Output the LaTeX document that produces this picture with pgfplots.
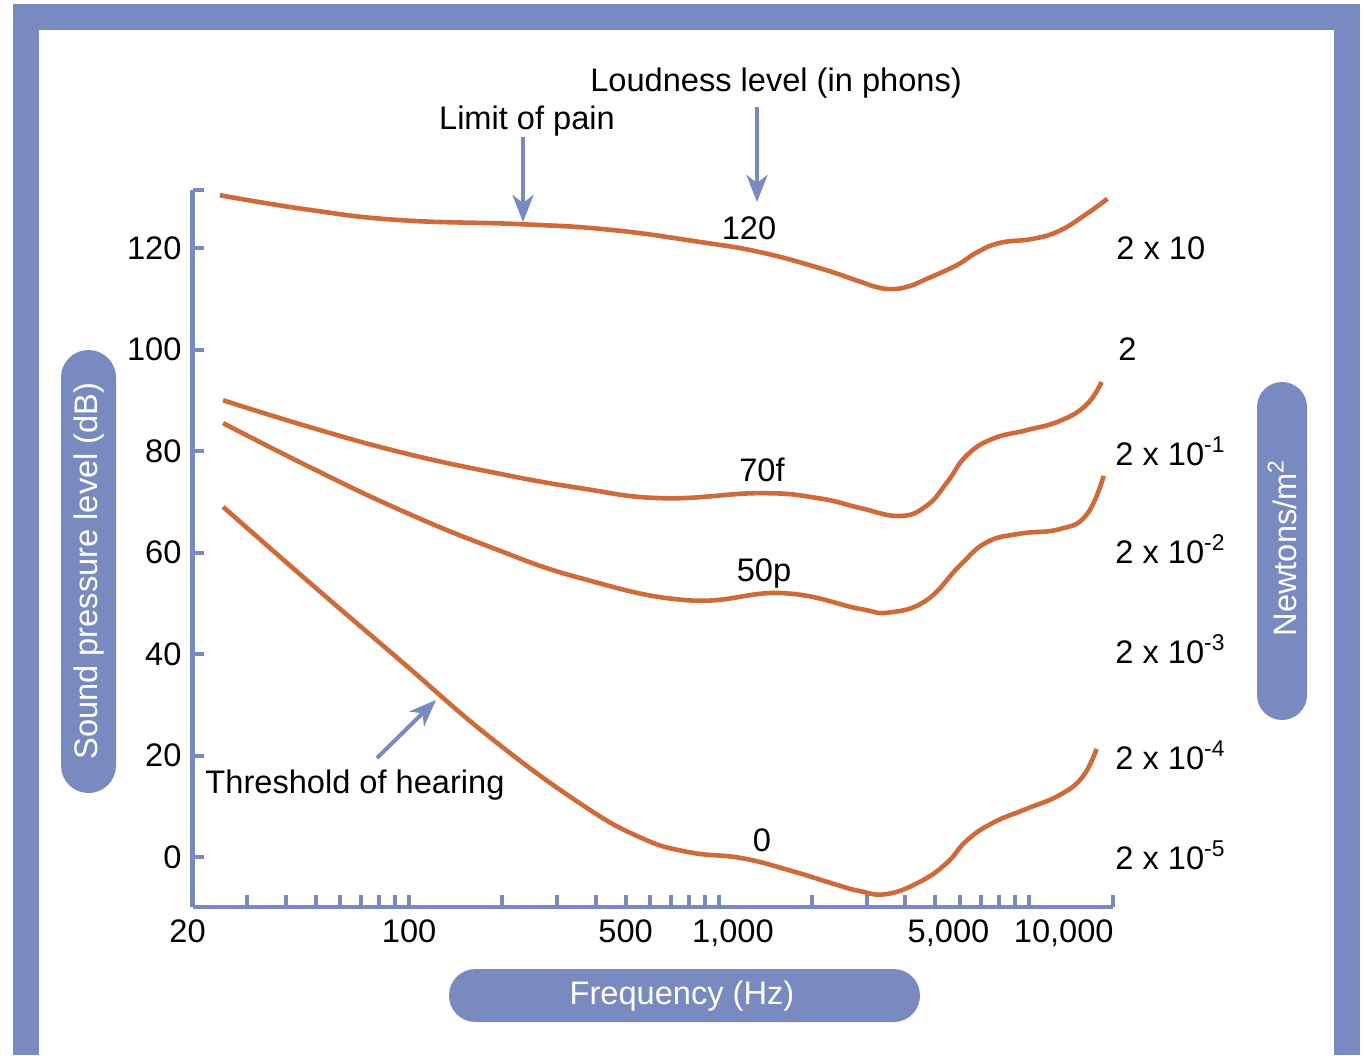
\documentclass[border=0pt]{standalone}
\usepackage{fontspec}
\setmainfont{Liberation Sans}
\usepackage{pgfplots}
\pgfplotsset{compat=1.18}
\usetikzlibrary{arrows.meta}
\definecolor{framecol}{RGB}{120,138,192}
\definecolor{curvecol}{RGB}{207,106,58}
\newcommand\fs{\fontsize{16.3}{19.5}\selectfont}
\tikzset{curve/.style={curvecol, line width=2.3pt, smooth, tension=0.75, no markers}}

\begin{document}
\begin{tikzpicture}
\begin{scope}[x=0.5pt,y=-0.5pt]
\useasboundingbox (0,0) rectangle (1368,1055);
\fill[white] (0,0) rectangle (1368,1055);
\fill[framecol] (13,4) rectangle (1360,1055);
\fill[white] (39,30) rectangle (1334,1055);
% pills
\fill[framecol, rounded corners=13.7pt] (61,350) rectangle (116,793);
\node[text=white, rotate=90, font=\fs] at (89,571) {Sound pressure level (dB)};
\fill[framecol, rounded corners=12.5pt] (1257,382) rectangle (1307,720);
\node[text=white, rotate=90, font=\fs] at (1282,548) {Newtons/m\textsuperscript{2}};
\fill[framecol, rounded corners=13.2pt] (449,969) rectangle (920,1022);
\node[text=white, font=\fs] at (682,996) {Frequency (Hz)};
% annotations
\node[font=\fs] at (776,83) {Loudness level (in phons)};
\node[font=\fs] at (527,121) {Limit of pain};
\node[font=\fs] at (355,785) {Threshold of hearing};
\node[font=\fs] at (749,228) {120};
\node[font=\fs] at (762,470) {70f};
\node[font=\fs] at (764,573) {50p};
\node[font=\fs] at (762,840) {0};
\draw[framecol, line width=2pt, -{Stealth[length=13.5pt,width=10.5pt,inset=4pt]}] (523,137) -- (523,222);
\draw[framecol, line width=2pt, -{Stealth[length=13.5pt,width=10.5pt,inset=4pt]}] (757,107) -- (757,202);
\draw[framecol, line width=2pt, -{Stealth[length=13.5pt,width=10.5pt,inset=4pt]}] (377,758) -- (436,700);
% right-hand pressure labels
\begin{scope}[every node/.style={font=\fs, anchor=base west, inner sep=0pt}]
\node at (1116,259) {2 x 10};
\node at (1118,360) {2};
\node at (1115,465) {2 x 10\textsuperscript{-1}};
\node at (1115,563) {2 x 10\textsuperscript{-2}};
\node at (1115,663) {2 x 10\textsuperscript{-3}};
\node at (1115,769) {2 x 10\textsuperscript{-4}};
\node at (1115,869) {2 x 10\textsuperscript{-5}};
\end{scope}
\end{scope}

\begin{axis}[
  at={(96.25pt,-453.5pt)}, anchor=south west,
  scale only axis, width=460pt, height=358.5pt,
  xmode=log, xmin=20, xmax=18640, ymin=-9.85, ymax=131.43,
  axis lines*=left,
  axis line style={framecol, line width=2.2pt, -},
  tick align=inside,
  major tick length=6pt,
  tick style={framecol, line width=2pt},
  xminorticks=false, yminorticks=false,
  xtick={20,30,40,50,60,70,80,90,100,200,300,400,500,600,700,800,900,1000,2000,3000,4000,5000,6000,7000,8000,9000,10000,18640},
  xticklabels={{20\hspace*{5pt}},{},{},{},{},{},{},{},{100},{},{},{},{500},{},{},{},{},{\hspace*{14pt}1,000},{},{},{},{\hspace*{13pt}5,000},{},{},{},{},{\hspace*{35pt}10,000},{}},
  ytick={0,20,40,60,80,100,120,131.43},
  yticklabels={0,20,40,60,80,100,120,{}},
  tick label style={font=\fs, text=black},
  xticklabel style={yshift=-3pt},
  yticklabel style={xshift=-2pt},
  clip=false,
]
\addplot[curve] coordinates {
(24.5,130.4) (47.9,127.5) (93.4,125.5) (227.6,124.7) (444.6,123.6) (867,121.2) (1354,119.2) (2098,116.1) (2846,113.4) (3230,112.3) (3638,111.9) (4126,112.5) (4677,113.9) (5848,116.6) (6788,119.1) (8052,121.0) (10290,121.8) (12570,123.4) (15350,126.7) (17950,129.7)
};
\addplot[curve] coordinates {
(25.1,90.0) (47.9,84.7) (93.4,79.8) (182.4,75.9) (355.6,72.7) (659,70.7) (1354,71.7) (2098,70.7) (2846,68.8) (3831,67.2) (4677,69.2) (5432,73.7) (6298,79.1) (7640,82.4) (9840,84.1) (12570,85.9) (15350,89.1) (17180,93.6)
};
\addplot[curve] coordinates {
(25.1,85.5) (47.9,76.8) (93.4,68.4) (182.4,61.1) (355.6,55.0) (793,50.6) (1607,52.0) (2846,48.9) (3557,48.2) (4677,50.6) (5985,57.4) (7311,62.0) (9338,63.7) (12570,64.6) (15350,67.4) (17460,75.1)
};
\addplot[curve] coordinates {
(25.1,69.0) (47.9,54.0) (93.4,38.8) (182.4,23.6) (355.6,10.6) (555.6,3.9) (793,1.0) (1180,-0.2) (1686,-2.6) (2408,-5.5) (2846,-6.7) (3476,-7.3) (4446,-4.9) (5432,-1.2) (6298,3.2) (7640,6.7) (9840,9.5) (12570,12.2) (14920,15.8) (16560,21.3)
};
\end{axis}
\end{tikzpicture}
\end{document}
